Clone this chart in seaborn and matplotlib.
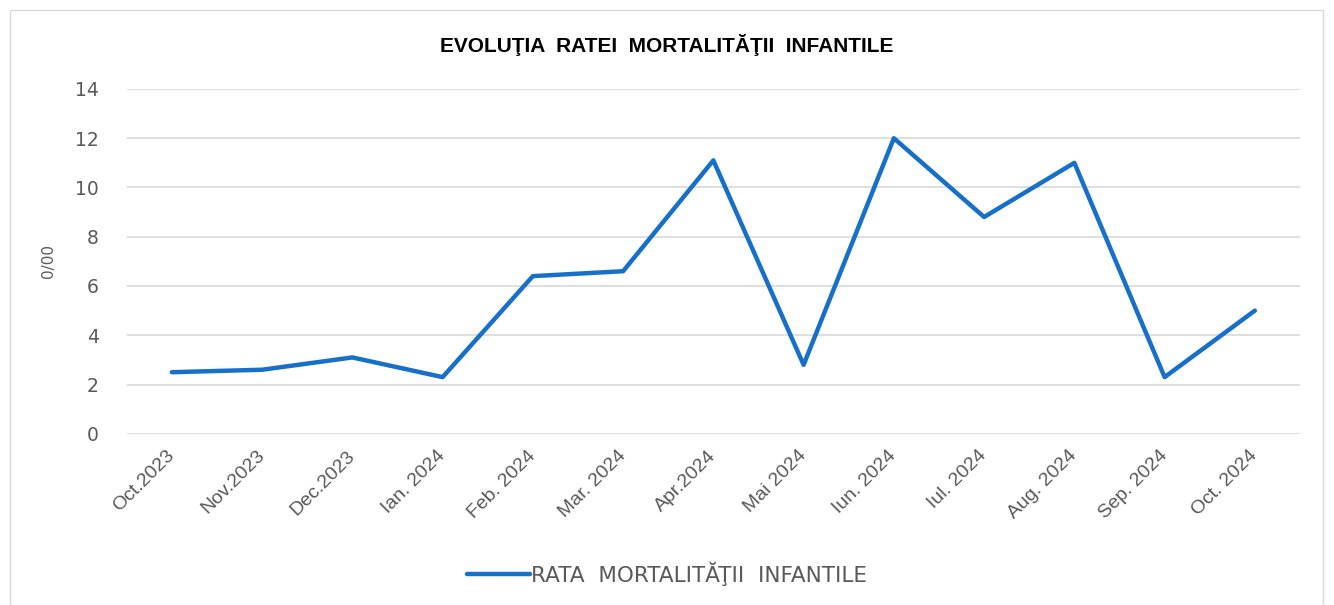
import pandas as pd
import seaborn as sns
import matplotlib.pyplot as plt
from matplotlib.patches import Rectangle

luni = ['Oct.2023', 'Nov.2023', 'Dec.2023', 'Ian. 2024', 'Feb. 2024', 'Mar. 2024',
        'Apr.2024', 'Mai 2024', 'Iun. 2024', 'Iul. 2024', 'Aug. 2024', 'Sep. 2024', 'Oct. 2024']
rata = [2.5, 2.6, 3.1, 2.3, 6.4, 6.6, 11.1, 2.8, 12.0, 8.8, 11.0, 2.3, 5.0]
serie = 'RATA  MORTALITĂŢII  INFANTILE'

df = pd.DataFrame({'Luna': luni, 'Rata': rata})

sns.set_style('white')
plt.rcParams['font.family'] = ['DejaVu Sans']

fig = plt.figure(figsize=(13.34, 6.05), dpi=100)
ax = fig.add_axes([0.095, 0.283, 0.8795, 0.57])

sns.lineplot(data=df, x='Luna', y='Rata', ax=ax, color='#1670c9', linewidth=3.2,
             label=serie, sort=False)

ax.set_xlim(-0.5, len(luni) - 0.5)
ax.set_ylim(0, 14)
ax.set_yticks(range(0, 15, 2))
ax.grid(axis='y', color='#d9d9d9', linewidth=1.2)
ax.set_axisbelow(True)
for s in ax.spines.values():
    s.set_visible(False)
ax.tick_params(axis='both', length=0)
ax.tick_params(axis='y', labelsize=13.5, labelcolor='#595959', pad=20)
ax.set_xticks(range(len(luni)))
ax.set_xticklabels(luni, rotation=45, ha='right', va='center', rotation_mode='anchor',
                   fontsize=14, color='#595959', family='Liberation Sans')
ax.tick_params(axis='x', pad=14)
ax.set_xlabel('')
ax.set_ylabel('0/00', fontsize=11, color='#595959', labelpad=14)

ax.get_legend().remove()
fig.legend(loc='lower center', bbox_to_anchor=(0.5, 0.0), frameon=False,
           fontsize=15.5, handlelength=2.9, handletextpad=0.05, labelcolor='#595959')

fig.text(0.5, 0.925, 'EVOLUŢIA  RATEI  MORTALITĂŢII  INFANTILE', ha='center', va='center',
         fontsize=15, fontweight='bold', family='Liberation Sans', color='black')

fig.patches.append(Rectangle((10 / 1334, -0.01), 1313 / 1334, 1 - 10 / 605 + 0.01,
                             transform=fig.transFigure, fill=False, edgecolor='#d9d9d9',
                             linewidth=1))

fig.savefig('out.png', dpi=100)
